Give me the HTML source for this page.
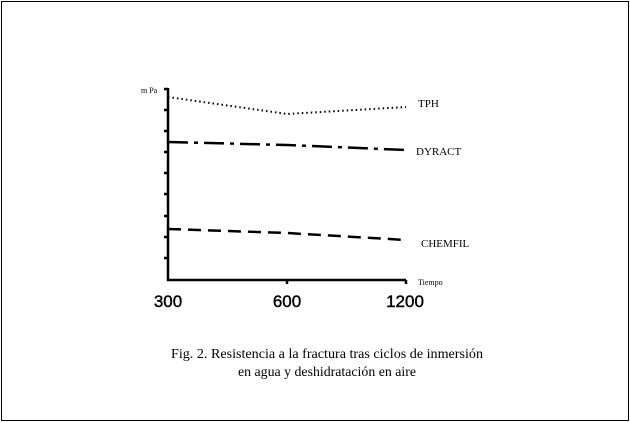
<!DOCTYPE html>
<html><head><style>
body{margin:0;background:#fff;}
</style></head><body>
<svg width="630" height="423" xmlns="http://www.w3.org/2000/svg" style="display:block">
<rect x="1.5" y="1.5" width="627" height="419" fill="#fff" stroke="#000" stroke-width="1"/>
<g stroke="#000" stroke-width="2.5" fill="none">
<line x1="168" y1="88" x2="168" y2="281"/>
<line x1="167" y1="280" x2="406" y2="280"/>
<path d="M164 89H168M164 110H168M164 131H168M164 152H168M164 173H168M164 194H168M164 216H168M164 237H168M164 258H168" />
<path d="M287 280V284M406 280V284"/>
</g>
<polyline points="168,97 287,114 406,107" fill="none" stroke="#000" stroke-width="2" stroke-dasharray="1.5,3"/>
<polyline points="168,142 287,145 406,150" fill="none" stroke="#000" stroke-width="2.5" stroke-dasharray="20,6,4,6"/>
<polyline points="168,229 287,233 406,240" fill="none" stroke="#000" stroke-width="2.5" stroke-dasharray="13,7"/>
<g font-family="Liberation Serif, serif" fill="#000">
<text x="141" y="93" font-size="8">m Pa</text>
<text x="418" y="107" font-size="11">TPH</text>
<text x="416" y="155" font-size="11">DYRACT</text>
<text x="421" y="247" font-size="11">CHEMFIL</text>
<text x="418" y="285" font-size="8">Tiempo</text>
<text x="327" y="358" font-size="14" text-anchor="middle" textLength="312" lengthAdjust="spacingAndGlyphs">Fig. 2. Resistencia a la fractura tras ciclos de inmersión</text>
<text x="327" y="376" font-size="14" text-anchor="middle" textLength="178" lengthAdjust="spacingAndGlyphs">en agua y deshidratación en aire</text>
</g>
<g font-family="Liberation Sans, sans-serif" font-size="17" text-anchor="middle" fill="#000" stroke="#000" stroke-width="0.4">
<text x="168" y="307">300</text>
<text x="287" y="307">600</text>
<text x="405" y="307">1200</text>
</g>
</svg>
</body></html>
